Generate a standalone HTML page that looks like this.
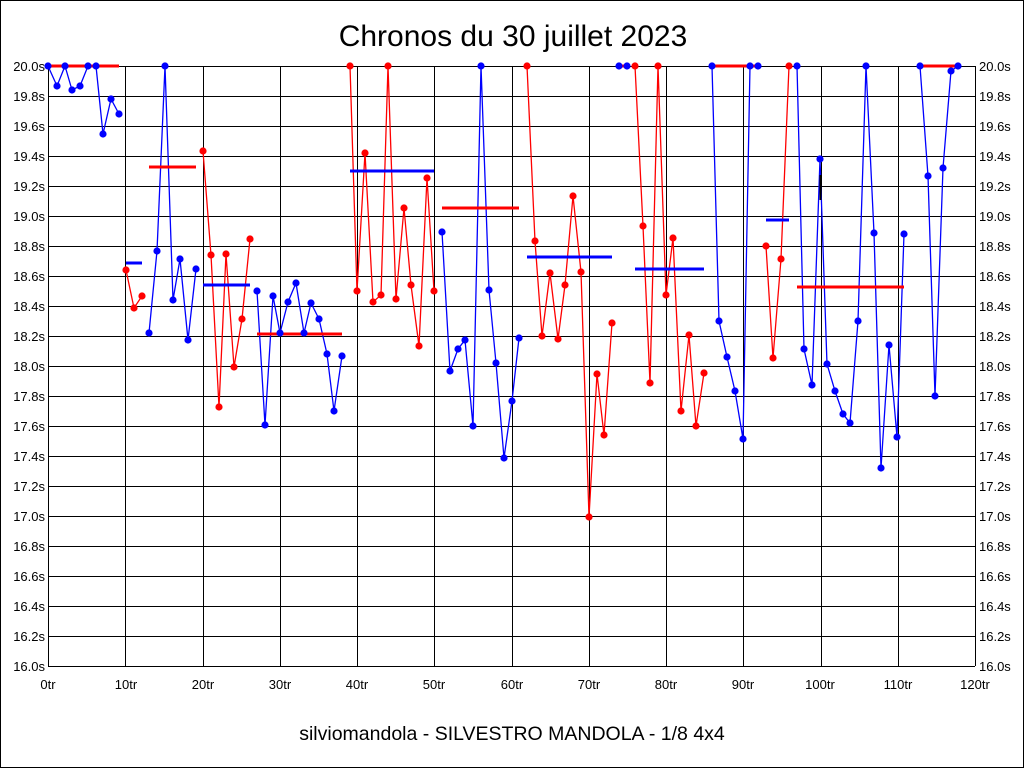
<!DOCTYPE html>
<html><head><meta charset="utf-8"><style>
body{margin:0;background:#fff}
svg{display:block}
text{font-family:"Liberation Sans",sans-serif;fill:#000}
</style></head><body>
<svg id="s" width="1024" height="768" viewBox="0 0 1024 768" xmlns="http://www.w3.org/2000/svg">
<rect x="0.5" y="0.5" width="1023" height="767" fill="#fff" stroke="#000"/>
<text x="513" y="46" font-size="30" text-anchor="middle">Chronos du 30 juillet 2023</text>
<text x="512" y="740" font-size="19.5" text-anchor="middle">silviomandola - SILVESTRO MANDOLA - 1/8 4x4</text>
<g id="grid" stroke="#000" stroke-width="1"></g>
<g font-size="13" text-anchor="end">
<text x="45" y="71">20.0s</text><text x="45" y="101">19.8s</text><text x="45" y="131">19.6s</text><text x="45" y="161">19.4s</text><text x="45" y="191">19.2s</text><text x="45" y="221">19.0s</text><text x="45" y="251">18.8s</text><text x="45" y="281">18.6s</text><text x="45" y="311">18.4s</text><text x="45" y="341">18.2s</text><text x="45" y="371">18.0s</text><text x="45" y="401">17.8s</text><text x="45" y="431">17.6s</text><text x="45" y="461">17.4s</text><text x="45" y="491">17.2s</text><text x="45" y="521">17.0s</text><text x="45" y="551">16.8s</text><text x="45" y="581">16.6s</text><text x="45" y="611">16.4s</text><text x="45" y="641">16.2s</text><text x="45" y="671">16.0s</text>
</g>
<g font-size="13" text-anchor="start">
<text x="979" y="71">20.0s</text><text x="979" y="101">19.8s</text><text x="979" y="131">19.6s</text><text x="979" y="161">19.4s</text><text x="979" y="191">19.2s</text><text x="979" y="221">19.0s</text><text x="979" y="251">18.8s</text><text x="979" y="281">18.6s</text><text x="979" y="311">18.4s</text><text x="979" y="341">18.2s</text><text x="979" y="371">18.0s</text><text x="979" y="401">17.8s</text><text x="979" y="431">17.6s</text><text x="979" y="461">17.4s</text><text x="979" y="491">17.2s</text><text x="979" y="521">17.0s</text><text x="979" y="551">16.8s</text><text x="979" y="581">16.6s</text><text x="979" y="611">16.4s</text><text x="979" y="641">16.2s</text><text x="979" y="671">16.0s</text>
</g>
<g font-size="13" text-anchor="middle">
<text x="48" y="689">0tr</text><text x="126" y="689">10tr</text><text x="203" y="689">20tr</text><text x="280" y="689">30tr</text><text x="357" y="689">40tr</text><text x="434" y="689">50tr</text><text x="512" y="689">60tr</text><text x="589" y="689">70tr</text><text x="666" y="689">80tr</text><text x="743" y="689">90tr</text><text x="820" y="689">100tr</text><text x="898" y="689">110tr</text><text x="975" y="689">120tr</text>
</g>
<g id="data"></g>
</svg>
<script>
var NS="http://www.w3.org/2000/svg";
function el(p,t,a){var e=document.createElementNS(NS,t);for(var k in a)e.setAttribute(k,a[k]);p.appendChild(e);return e;}
var g=document.getElementById("grid");
for(var i=0;i<=20;i++){var y=66+i*30;el(g,"line",{x1:48,x2:975,y1:y+0.5,y2:y+0.5});}
for(var i=0;i<=12;i++){var x=Math.round(48+i*77.25)+0.5;el(g,"line",{x1:x,x2:x,y1:66,y2:666});}
var segs=[
["#00f",[[48,66],[57,86],[65,66],[72,90],[80,86],[88,66],[96,66],[103,134],[111,99],[119,114]],"#f00",48,119,66],
["#f00",[[126,270],[134,308],[142,296]],"#00f",126,142,263],
["#00f",[[149,333],[157,251],[165,66],[173,300],[180,259],[188,340],[196,269]],"#f00",149,196,167],
["#f00",[[203,151],[211,255],[219,407],[226,254],[234,367],[242,319],[250,239]],"#00f",203,250,285],
["#00f",[[257,291],[265,425],[273,296],[280,333],[288,302],[296,283],[304,333],[311,303],[319,319],[327,354],[334,411],[342,356]],"#f00",257,342,334],
["#f00",[[350,66],[357,291],[365,153],[373,302],[381,295],[388,66],[396,299],[404,208],[411,285],[419,346],[427,178],[434,291]],"#00f",350,434,171],
["#00f",[[442,232],[450,371],[458,349],[465,340],[473,426],[481,66],[489,290],[496,363],[504,458],[512,401],[519,338]],"#f00",442,519,208],
["#f00",[[527,66],[535,241],[542,336],[550,273],[558,339],[565,285],[573,196],[581,272],[589,517],[597,374],[604,435],[612,323]],"#00f",527,612,257],
["#00f",[[619,66],[627,66]],"#f00",619,627,66],
["#f00",[[635,66],[643,226],[650,383],[658,66],[666,295],[673,238],[681,411],[689,335],[696,426],[704,373]],"#00f",635,704,269],
["#00f",[[712,66],[719,321],[727,357],[735,391],[743,439],[750,66],[758,66]],"#f00",712,758,66],
["#f00",[[766,246],[773,358],[781,259],[789,66]],"#00f",766,789,220],
["#00f",[[797,66],[804,349],[812,385],[820,159],[827,364],[835,391],[843,414],[850,423],[858,321],[866,66],[874,233],[881,468],[889,345],[897,437],[904,234]],"#f00",797,904,287],
["#00f",[[920,66],[928,176],[935,396],[943,168],[951,71],[958,66]],"#f00",920,958,66]
];
var d=document.getElementById("data");
segs.forEach(function(s){
 el(d,"polyline",{points:s[1].map(function(p){return p.join(",")}).join(" "),fill:"none",stroke:s[0],"stroke-width":1.3});
 el(d,"line",{x1:s[3],x2:s[4],y1:s[5],y2:s[5],stroke:s[2],"stroke-width":3});
 s[1].forEach(function(p){el(d,"circle",{cx:p[0],cy:p[1],r:3.6,fill:s[0]});});
});
el(d,"line",{x1:820.5,x2:820.5,y1:175,y2:200,stroke:"#000","stroke-width":2});
</script>
</body></html>
